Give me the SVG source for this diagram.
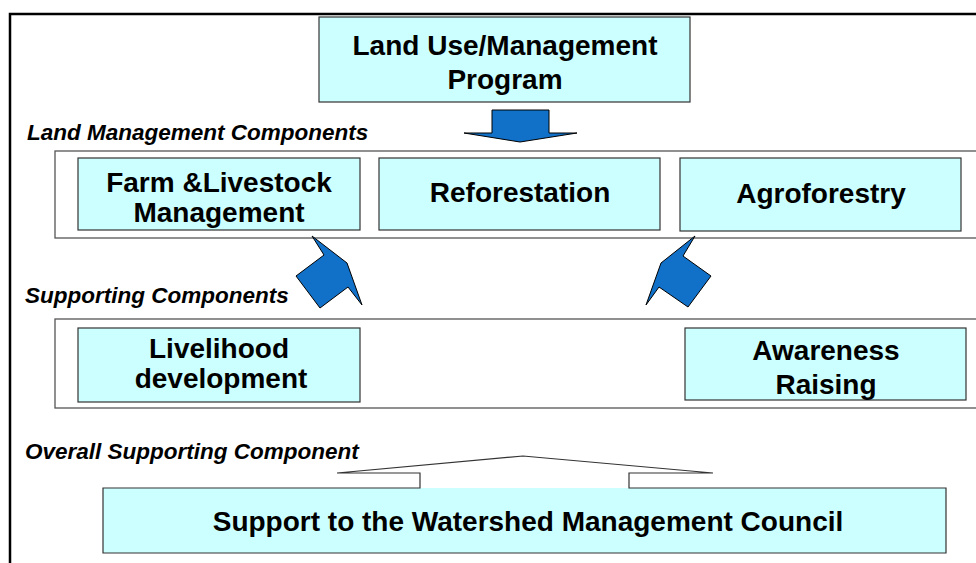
<svg xmlns="http://www.w3.org/2000/svg" width="976" height="563" viewBox="0 0 976 563">
<style>
.box{fill:#CCFFFF;stroke:#333;stroke-width:1.2}
.cont{fill:#fff;stroke:#555;stroke-width:1.3}
.t{font-family:"Liberation Sans",Arial,sans-serif;font-weight:bold;font-size:28px;fill:#000;text-anchor:middle}
.lbl{font-family:"Liberation Sans",Arial,sans-serif;font-weight:bold;font-style:italic;font-size:22.5px;fill:#000}
.arr{fill:#1170C8;stroke:#000;stroke-width:1}
</style>
<rect width="976" height="563" fill="#fff"/>
<path d="M10,563 V14 H976" fill="none" stroke="#000" stroke-width="2.5"/>
<g id="program">
<rect class="box" x="319" y="17" width="371" height="85"/>
<text class="t" x="505" y="55">Land Use/Management</text>
<text class="t" x="505" y="89">Program</text>
</g>
<text class="lbl" x="27" y="140">Land Management Components</text>
<g id="land-management">
<rect class="cont" x="55" y="151" width="930" height="87"/>
</g>
<g id="farm">
<rect class="box" x="78" y="158" width="282" height="72"/>
<text class="t" x="219" y="192">Farm &amp;Livestock</text>
<text class="t" x="219" y="222">Management</text>
</g>
<g id="reforestation">
<rect class="box" x="379" y="158" width="281" height="72"/>
<text class="t" x="520" y="202">Reforestation</text>
</g>
<g id="agroforestry">
<rect class="box" x="680" y="158" width="281" height="73"/>
<text class="t" x="821" y="203">Agroforestry</text>
</g>
<text class="lbl" x="25" y="303">Supporting Components</text>
<g id="supporting">
<rect class="cont" x="55" y="319" width="930" height="89"/>
</g>
<g id="livelihood">
<rect class="box" x="78" y="328" width="282" height="74"/>
<text class="t" x="219" y="358">Livelihood</text>
<text class="t" x="221" y="388">development</text>
</g>
<g id="awareness">
<rect class="box" x="685" y="328" width="281" height="72"/>
<text class="t" x="826" y="360">Awareness</text>
<text class="t" x="826" y="394">Raising</text>
</g>
<text class="lbl" x="25" y="459">Overall Supporting Component</text>
<g id="council">
<rect x="103" y="488" width="843" height="65" fill="#CCFFFF"/>
<polygon points="420,488 420,473 337,473 523,456 713,473 629,473 629,488" fill="#fff"/>
<path d="M420,488 V473 H337 L523,456 L713,473 H629 V488 H946 V553 H103 V488 Z" fill="none" stroke="#333" stroke-width="1.2"/>
<text class="t" x="528" y="531">Support to the Watershed Management Council</text>
</g>
<g id="connectors">
<polygon class="arr" points="492,110 549,110 549,133 577,133 520,142 464,133 492,133"/>
<polygon class="arr" points="312,236 347,263 362,305 348,287 320,308 296,276 324,255"/>
<polygon class="arr" points="695,236 683,256 711,276 688,307 659,287 646,305 661,263"/>
</g>
</svg>
